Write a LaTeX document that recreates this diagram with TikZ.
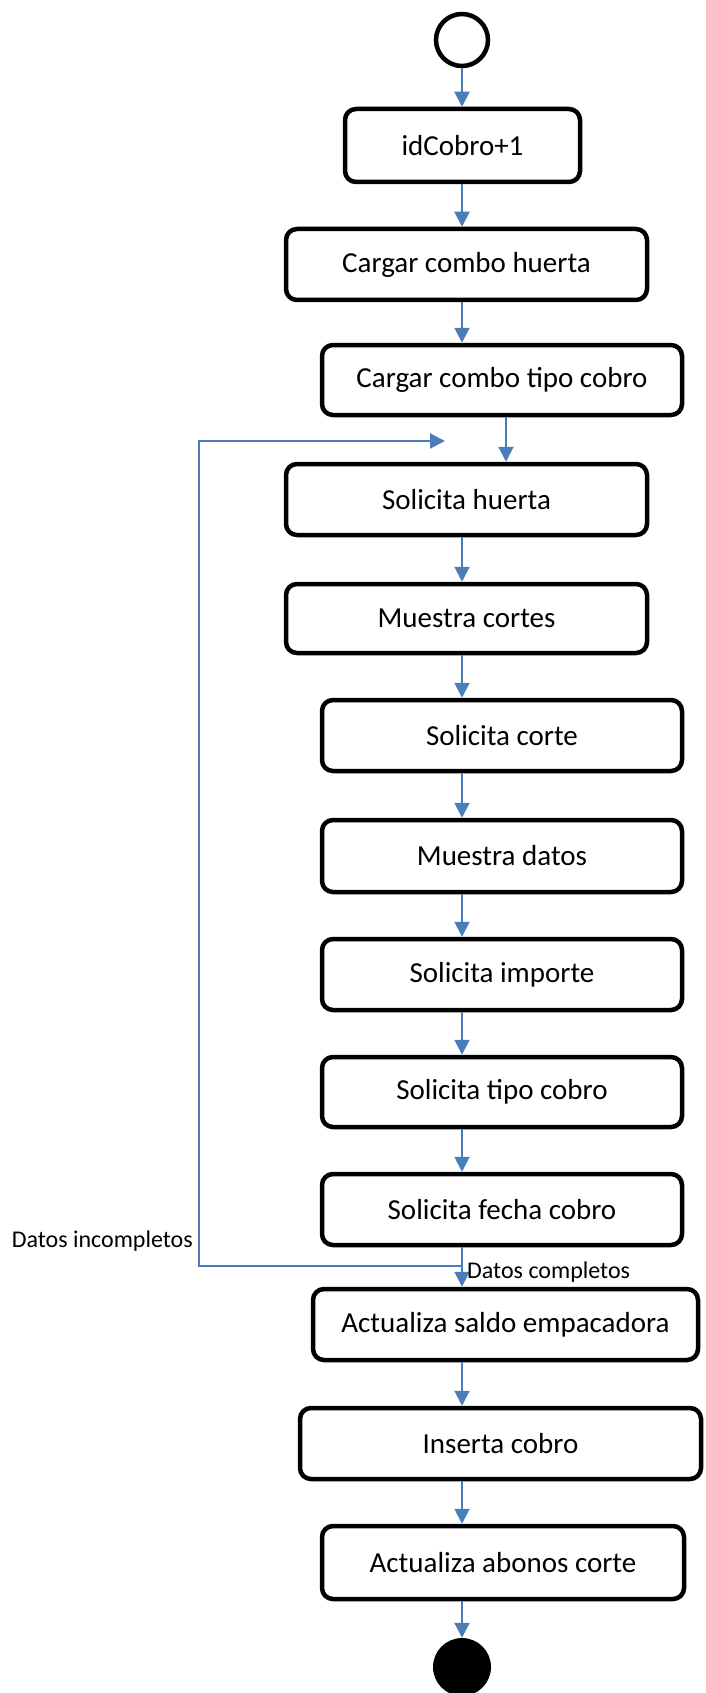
\documentclass[tikz,border=0pt]{standalone}
\usepackage{fontspec}
\setmainfont{Carlito}
\usetikzlibrary{arrows.meta}
\definecolor{arrblue}{RGB}{74,126,187}
\tikzset{
  actbox/.style={draw=black, line width=4.5pt, rounded corners=11pt, fill=white,
    inner sep=0pt, align=center, font=\fontsize{29}{34}\selectfont},
  arr/.style={draw=arrblue, line width=2pt, -{Triangle[length=15pt,width=15pt]}},
  lbl/.style={inner sep=0pt, font=\fontsize{24}{28}\selectfont},
}
\begin{document}
\begin{tikzpicture}[x=1pt,y=-1pt]
\useasboundingbox (0,0) rectangle (705,1693);
\node[circle, draw=black, line width=4.5pt, fill=white, minimum size=52pt, inner sep=0pt] (start) at (462,40) {};
\node[actbox, minimum width=235pt, minimum height=73pt] (b1) at (462.5,145.5) {idCobro+1};
\node[actbox, minimum width=361pt, minimum height=71pt] (b2) at (466.5,264.5) {Cargar combo huerta};
\node[actbox, minimum width=360pt, minimum height=70pt] (b3) at (502,380) {Cargar combo tipo cobro};
\node[actbox, minimum width=361pt, minimum height=71pt] (b4) at (466.5,499.5) {Solicita huerta};
\node[actbox, minimum width=361pt, minimum height=69pt] (b5) at (466.5,618.5) {Muestra cortes};
\node[actbox, minimum width=360pt, minimum height=71pt] (b6) at (502,735.5) {Solicita corte};
\node[actbox, minimum width=360pt, minimum height=72pt] (b7) at (502,856) {Muestra datos};
\node[actbox, minimum width=360pt, minimum height=71pt] (b8) at (502,974.5) {Solicita importe};
\node[actbox, minimum width=360pt, minimum height=70pt] (b9) at (502,1092) {Solicita tipo cobro};
\node[actbox, minimum width=360pt, minimum height=71pt] (b10) at (502,1209.5) {Solicita fecha cobro};
\node[actbox, minimum width=385pt, minimum height=71pt] (b11) at (505.5,1324.5) {Actualiza saldo empacadora};
\node[actbox, minimum width=401pt, minimum height=71pt] (b12) at (500.5,1443.5) {Inserta cobro};
\node[actbox, minimum width=362pt, minimum height=73pt] (b13) at (503,1562.5) {Actualiza abonos corte};
\node[circle, fill=black, minimum size=58pt, inner sep=0pt] (end) at (462,1667) {};

\coordinate (mainx) at (462,0);
\coordinate (inx) at (506,0);
\coordinate (j) at (462,1266);
\coordinate (lp) at (199,1266);
\coordinate (lt) at (445,441);

\draw[arr] (start) -- (b1.north -| mainx);
\draw[arr] (b1.south -| mainx) -- (b2.north -| mainx);
\draw[arr] (b2.south -| mainx) -- (b3.north -| mainx);
\draw[arr] (b3.south -| inx) -- (b4.north -| inx);
\draw[arr] (b4.south -| mainx) -- (b5.north -| mainx);
\draw[arr] (b5.south -| mainx) -- (b6.north -| mainx);
\draw[arr] (b6.south -| mainx) -- (b7.north -| mainx);
\draw[arr] (b7.south -| mainx) -- (b8.north -| mainx);
\draw[arr] (b8.south -| mainx) -- (b9.north -| mainx);
\draw[arr] (b9.south -| mainx) -- (b10.north -| mainx);
\draw[arr] (b10.south -| mainx) -- (b11.north -| mainx);
\draw[arr] (b11.south -| mainx) -- (b12.north -| mainx);
\draw[arr] (b12.south -| mainx) -- (b13.north -| mainx);
\draw[arr] (b13.south -| mainx) -- (end);
\draw[arr] (j) -- (lp) |- (lt);

\node[lbl, anchor=east] (linc) at (193,1241) {Datos incompletos};
\node[lbl, anchor=west] (lcom) at (467,1272) {Datos completos};
\end{tikzpicture}
\end{document}
